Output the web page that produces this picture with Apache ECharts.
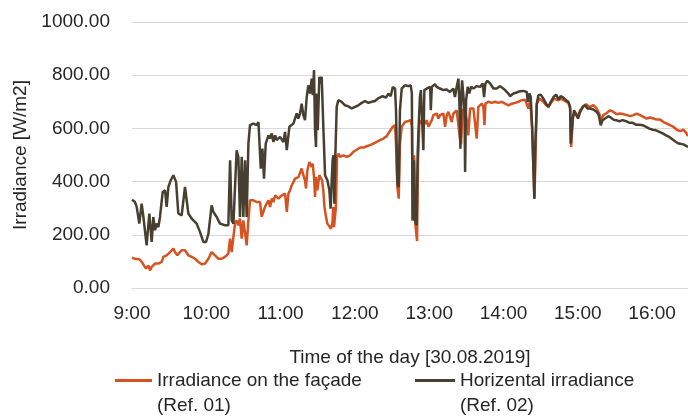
<!DOCTYPE html>
<html>
<head>
<meta charset="utf-8">
<script src="https://cdn.jsdelivr.net/npm/echarts@6/dist/echarts.min.js"></script>
<style>
  html, body { margin: 0; padding: 0; background: #fff; }
  #chart { width: 688px; height: 417px; }
</style>
</head>
<body>
<div id="chart"></div>
<script>
// Minutes after 09:00 and irradiance in W/m2, 30.08.2019
const facadeMinutes = [0, 2.4, 3.8, 5.9, 7.8, 9.2, 11.3, 13.2, 14.5, 15.9, 17.2, 18.6, 21.3, 24.0, 25.3, 28.0, 30.7, 33.4, 34.7, 36.6, 38.2, 40.1, 41.5, 42.8, 45.5, 48.2, 50.9, 53.6, 56.3, 59.0, 61.7, 64.3, 67.0, 69.7, 72.4, 75.1, 77.8, 79.2, 80.5, 81.9, 83.2, 84.5, 85.9, 87.2, 88.6, 89.9, 91.3, 92.6, 94.0, 95.3, 98.0, 100.7, 102.1, 103.4, 104.7, 106.1, 107.4, 108.8, 110.2, 111.5, 112.9, 114.2, 115.6, 118.3, 121.0, 123.6, 125.0, 126.3, 127.6, 129.0, 131.7, 134.4, 135.7, 137.0, 138.4, 139.7, 140.5, 141.6, 143.2, 144.3, 145.1, 145.9, 147.0, 147.8, 148.6, 149.7, 151.3, 152.4, 153.5, 154.5, 155.4, 156.7, 157.8, 159.4, 160.7, 161.8, 162.6, 163.1, 163.9, 164.7, 165.6, 166.7, 168.0, 170.7, 173.4, 176.1, 178.8, 181.5, 184.2, 186.9, 189.5, 192.2, 194.9, 197.6, 200.3, 203.0, 205.7, 207.0, 208.4, 210.6, 212.4, 213.2, 214.3, 215.4, 216.4, 217.8, 220.5, 223.2, 225.1, 226.1, 226.7, 227.8, 228.8, 230.2, 231.0, 232.1, 234.0, 235.3, 236.7, 238.0, 239.4, 240.7, 242.1, 243.4, 246.1, 247.4, 248.8, 251.5, 252.8, 254.2, 255.5, 256.8, 258.2, 259.5, 260.9, 262.2, 263.5, 264.9, 265.7, 267.0, 268.9, 270.3, 271.6, 273.0, 275.7, 277.0, 278.4, 279.7, 281.1, 282.5, 283.8, 284.6, 285.4, 287.8, 290.5, 293.2, 295.9, 298.6, 301.3, 304.0, 306.7, 309.4, 312.0, 314.7, 317.4, 318.8, 320.1, 321.5, 323.1, 325.0, 326.9, 329.0, 332.3, 334.4, 336.3, 339.0, 340.9, 342.5, 344.4, 346.2, 348.4, 350.5, 352.4, 353.8, 354.6, 355.4, 356.2, 357.8, 359.7, 361.9, 364.5, 366.7, 369.4, 372.6, 375.3, 377.5, 378.5, 380.7, 383.4, 386.1, 388.8, 391.5, 394.2, 396.9, 399.6, 402.3, 404.9, 407.6, 410.3, 413.0, 415.7, 418.4, 421.1, 423.8, 426.5, 429.2, 431.9, 434.5, 437.2, 439.9, 442.6, 445.3, 447.5, 449.0];
const facadeValues = [114, 110, 104, 108, 98, 104, 73, 85, 66, 79, 73, 92, 92, 98, 117, 123, 135, 148, 135, 123, 132, 142, 148, 142, 123, 117, 110, 98, 89, 92, 110, 135, 123, 110, 110, 117, 129, 186, 135, 192, 242, 254, 236, 261, 186, 254, 254, 160, 254, 330, 330, 323, 330, 323, 267, 273, 305, 298, 330, 305, 336, 323, 348, 336, 348, 355, 286, 355, 367, 386, 411, 417, 424, 449, 424, 405, 374, 442, 474, 480, 455, 468, 417, 342, 417, 367, 424, 430, 405, 367, 305, 267, 242, 236, 223, 242, 305, 229, 236, 305, 493, 505, 493, 499, 493, 499, 512, 520, 528, 528, 533, 537, 543, 549, 556, 562, 571, 581, 574, 606, 612, 543, 380, 336, 543, 606, 624, 628, 631, 606, 254, 499, 242, 176, 480, 631, 618, 624, 618, 631, 606, 599, 631, 650, 656, 637, 650, 656, 606, 650, 662, 656, 624, 656, 662, 668, 662, 560, 540, 668, 675, 631, 574, 675, 675, 681, 562, 681, 687, 693, 681, 612, 693, 700, 696, 700, 696, 700, 693, 687, 693, 696, 700, 706, 708, 703, 675, 706, 606, 336, 693, 712, 700, 687, 681, 700, 712, 708, 706, 712, 706, 700, 696, 675, 530, 524, 643, 662, 643, 668, 683, 691, 681, 687, 675, 653, 631, 650, 658, 668, 662, 653, 656, 653, 650, 646, 650, 656, 650, 643, 637, 641, 637, 633, 633, 624, 618, 612, 606, 595, 590, 595, 583, 571];

const horizMinutes = [0, 2.4, 3.8, 5.9, 7.8, 9.2, 11.8, 14.0, 15.9, 17.2, 18.6, 19.9, 21.3, 22.6, 24.8, 26.7, 28.0, 29.4, 31.3, 33.4, 35.6, 37.4, 40.1, 42.8, 44.2, 45.5, 48.2, 52.2, 54.9, 57.6, 59.8, 61.7, 64.3, 65.7, 67.0, 68.4, 71.1, 75.1, 77.8, 79.2, 80.5, 81.9, 84.5, 85.9, 87.2, 88.6, 89.9, 91.3, 92.6, 94.0, 95.3, 98.0, 100.7, 102.1, 103.4, 104.0, 105.3, 106.6, 108.0, 110.2, 111.5, 112.9, 114.2, 115.6, 116.9, 119.6, 122.3, 123.6, 125.0, 127.1, 130.3, 133.0, 134.3, 135.7, 137.0, 138.4, 139.7, 141.1, 142.4, 143.8, 145.1, 146.0, 147.0, 147.8, 148.6, 149.2, 150.0, 151.3, 152.4, 153.2, 154.5, 155.9, 157.8, 159.4, 160.4, 161.2, 162.0, 162.6, 163.4, 164.2, 165.3, 166.6, 169.3, 172.0, 174.7, 177.4, 180.1, 182.8, 185.5, 188.2, 190.9, 193.6, 196.3, 198.4, 200.0, 202.4, 205.1, 207.0, 208.9, 210.6, 212.4, 213.2, 214.3, 215.4, 216.4, 217.8, 220.5, 223.2, 225.1, 226.0, 226.6, 227.7, 228.5, 229.8, 230.7, 231.7, 232.5, 233.3, 234.6, 235.3, 236.1, 238.1, 239.4, 240.8, 241.3, 242.1, 243.3, 244.7, 246.0, 248.7, 251.4, 254.1, 256.8, 258.2, 259.5, 260.8, 262.2, 263.6, 264.4, 265.2, 266.0, 266.6, 267.7, 268.5, 269.0, 269.8, 271.1, 272.4, 273.8, 275.7, 278.4, 281.1, 283.2, 284.3, 285.4, 287.0, 289.2, 291.9, 294.6, 297.3, 298.9, 301.3, 304.0, 305.3, 308.0, 310.7, 313.4, 316.1, 318.8, 319.6, 320.9, 322.0, 323.1, 324.2, 324.9, 325.7, 326.9, 328.2, 330.1, 332.2, 334.4, 336.3, 338.2, 340.4, 342.5, 344.7, 346.2, 348.4, 350.5, 352.4, 353.8, 354.3, 355.1, 355.9, 357.0, 358.6, 360.2, 361.9, 364.0, 365.9, 367.8, 369.9, 372.6, 375.3, 376.9, 378.5, 380.1, 382.0, 384.7, 386.6, 388.7, 390.9, 393.6, 396.3, 399.0, 401.7, 404.3, 407.0, 409.7, 412.4, 415.1, 417.8, 420.5, 423.2, 425.9, 428.6, 431.3, 433.9, 436.6, 439.3, 441.5, 443.1, 445.3, 446.9, 449.0];
const horizValues = [332, 323, 305, 242, 317, 267, 160, 280, 173, 267, 217, 242, 229, 267, 361, 367, 305, 380, 405, 424, 399, 280, 273, 380, 380, 280, 261, 242, 211, 173, 173, 204, 311, 286, 292, 267, 242, 236, 236, 480, 254, 242, 518, 493, 267, 493, 267, 480, 267, 543, 612, 618, 612, 624, 618, 449, 524, 411, 543, 574, 562, 581, 549, 574, 556, 568, 549, 587, 518, 606, 618, 656, 637, 656, 693, 650, 631, 718, 762, 731, 787, 725, 819, 593, 530, 731, 593, 794, 769, 794, 606, 424, 405, 367, 298, 392, 480, 499, 317, 493, 681, 706, 700, 687, 683, 675, 681, 687, 696, 703, 696, 700, 703, 712, 706, 721, 716, 731, 721, 756, 750, 668, 392, 380, 668, 750, 762, 759, 762, 731, 254, 480, 254, 236, 505, 631, 718, 744, 737, 518, 744, 750, 744, 756, 668, 756, 762, 766, 756, 750, 744, 746, 737, 731, 750, 718, 756, 787, 693, 524, 731, 781, 718, 668, 436, 706, 756, 731, 756, 750, 759, 756, 769, 718, 769, 779, 769, 750, 750, 759, 762, 744, 731, 721, 731, 735, 740, 741, 737, 700, 731, 718, 606, 443, 336, 543, 693, 725, 727, 712, 693, 681, 700, 718, 727, 708, 721, 716, 706, 700, 681, 543, 537, 637, 668, 668, 637, 662, 681, 687, 675, 675, 671, 662, 650, 612, 631, 637, 646, 641, 633, 631, 627, 631, 627, 621, 621, 614, 614, 612, 606, 599, 595, 593, 587, 581, 574, 568, 558, 549, 543, 549, 540, 533, 530];

const facadeName = 'Irradiance on the façade\n(Ref. 01)';
const horizName = 'Horizental irradiance\n(Ref. 02)';
const yTicks = [0, 200, 400, 600, 800, 1000];

const pairs = (xs, ys) => xs.map((x, i) => [x, ys[i]]);

const FONT = 'Liberation Sans';
const TEXT = '#262626';

const chart = echarts.init(document.getElementById('chart'), null, { renderer: 'canvas' });

// Legend labels are centred on their swatch; a blank leading line puts the
// swatch level with the first line of the two-line label.
const legendText = {
  fontFamily: FONT,
  fontSize: 19,
  color: TEXT,
  lineHeight: 25
};
const legendLabel = name => ' \n' + name;

chart.setOption({
  animation: false,
  backgroundColor: '#ffffff',
  grid: { left: 132, right: 0, top: 22, bottom: 129, containLabel: false },
  legend: [
    {
      data: [facadeName], left: 110, top: 338, icon: 'rect',
      itemWidth: 37, itemHeight: 3, textStyle: legendText, formatter: legendLabel
    },
    {
      data: [horizName], left: 410, top: 338, icon: 'rect',
      itemWidth: 40, itemHeight: 3, textStyle: legendText, formatter: legendLabel
    }
  ],
  xAxis: {
    type: 'value',
    min: 0,
    max: 449,
    interval: 60,
    name: 'Time of the day [30.08.2019]',
    nameLocation: 'middle',
    nameGap: 60,
    nameTextStyle: { fontFamily: FONT, fontSize: 19, color: TEXT },
    axisLine: { show: true, lineStyle: { color: '#D9D9D9', width: 1 } },
    axisTick: { show: false },
    splitLine: { show: false },
    axisLabel: {
      fontFamily: FONT, fontSize: 19, color: TEXT, margin: 16,
      showMaxLabel: false,
      formatter: v => (9 + Math.round(v / 60)) + ':00'
    }
  },
  yAxis: {
    type: 'value',
    min: yTicks[0],
    max: yTicks[yTicks.length - 1],
    interval: 200,
    name: 'Irradiance [W/m2]',
    nameLocation: 'middle',
    nameGap: 98,
    nameTextStyle: { fontFamily: FONT, fontSize: 19, color: TEXT },
    axisLine: { show: false },
    axisTick: { show: false },
    splitLine: { show: true, lineStyle: { color: '#D9D9D9', width: 1 } },
    axisLabel: {
      fontFamily: FONT, fontSize: 19, color: TEXT, margin: 22,
      formatter: v => v.toFixed(2)
    }
  },
  series: [
    {
      name: facadeName,
      type: 'line',
      data: pairs(facadeMinutes, facadeValues),
      symbol: 'none',
      lineStyle: { color: '#D65321', width: 2.5 },
      itemStyle: { color: '#D65321' }
    },
    {
      name: horizName,
      type: 'line',
      data: pairs(horizMinutes, horizValues),
      symbol: 'none',
      lineStyle: { color: '#473F30', width: 2.5 },
      itemStyle: { color: '#473F30' }
    }
  ]
});
</script>
</body>
</html>
